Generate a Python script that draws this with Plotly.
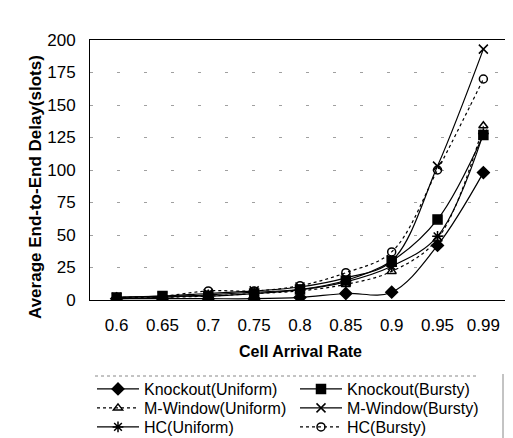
import plotly.graph_objects as go

categories = ["0.6", "0.65", "0.7", "0.75", "0.8", "0.85", "0.9", "0.95", "0.99"]
knockout_uniform = [1, 1, 1, 1, 2, 5, 6, 42, 98]
knockout_bursty = [2, 3, 3, 5, 8, 15, 30, 62, 127]
mwindow_uniform = [1, 2, 3, 5, 7, 12, 22, 47, 134]
mwindow_bursty = [2, 3, 5, 7, 10, 17, 30, 103, 193]
hc_uniform = [1, 2, 4, 6, 8, 14, 26, 49, 128]
hc_bursty = [2, 3, 7, 7, 11, 21, 37, 100, 170]
y_ticks = [0, 25, 50, 75, 100, 125, 150, 175, 200]

W, H = 513, 438
L, R, T, B = 82, 11, 32, 146  # margins in px
PW, PH = W - L - R, H - T - B

series = [
    ("Knockout(Uniform)", knockout_uniform, "solid", "diamond", 9),
    ("Knockout(Bursty)", knockout_bursty, "solid", "square", 9),
    ("M-Window(Uniform)", mwindow_uniform, "dot", "triangle-up-open", 8),
    ("M-Window(Bursty)", mwindow_bursty, "solid", "x-thin-open", 9),
    ("HC(Uniform)", hc_uniform, "solid", "asterisk-open", 9),
    ("HC(Bursty)", hc_bursty, "dot", "circle-open", 8),
]

# legend slots: (column left px, row centre px)
col_x = [84, 287]
row_y = [381, 400, 419]

fig = go.Figure()
legend_layouts = {}
for i, (name, vals, dash, sym, size) in enumerate(series):
    key = "legend" if i == 0 else f"legend{i + 1}"
    fig.add_trace(go.Scatter(
        x=categories, y=vals, name=name, mode="lines+markers", legend=key,
        line=dict(color="black", width=1.2, dash=dash, shape="spline", smoothing=1),
        marker=dict(symbol=sym, size=size, color="black",
                    line=dict(color="black", width=1.5)),
    ))
    legend_layouts[key] = dict(
        x=col_x[i % 2] / W, y=1 - row_y[i // 2] / H,
        xanchor="left", yanchor="middle", xref="container", yref="container",
        font=dict(size=16, family="Liberation Sans, Arial, sans-serif"),
        borderwidth=0, bgcolor="rgba(0,0,0,0)", itemwidth=42,
    )

def px_x(x):
    return (x - L) / PW

def px_y(y):
    return (H - B - y) / PH

fig.update_layout(
    width=W, height=H,
    margin=dict(l=L, r=R, t=T, b=B, autoexpand=False),
    paper_bgcolor="white", plot_bgcolor="white",
    font=dict(family="Liberation Sans, Arial, sans-serif", size=16, color="black"),
    showlegend=True,
    xaxis=dict(
        type="category",
        showline=True, linecolor="black", linewidth=1, mirror=True,
        showgrid=False, ticks="", tickfont=dict(size=17), ticklabelstandoff=10,
    ),
    yaxis=dict(
        range=[0, 200], tickvals=y_ticks,
        showline=True, linecolor="black", linewidth=1, mirror=True,
        showgrid=True, gridcolor="#a0a0a0", griddash="3px,24px", gridwidth=1,
        zeroline=False, ticks="", tickfont=dict(size=17), ticklabelstandoff=10,
    ),
    annotations=[
        dict(text="<b>Cell Arrival Rate</b>", xref="paper", yref="paper",
             x=0.5, y=px_y(343), xanchor="center", yanchor="middle",
             showarrow=False, font=dict(size=16)),
        dict(text="<b>Average End-to-End Delay(slots)</b>", xref="paper", yref="paper",
             x=px_x(27), y=px_y(179), xanchor="center", yanchor="middle",
             textangle=-90, showarrow=False, font=dict(size=17)),
    ],
    shapes=[
        dict(type="line", xref="paper", yref="paper", x0=px_x(87), x1=px_x(470),
             y0=px_y(368), y1=px_y(368), line=dict(color="#888888", width=1, dash="dot")),
        dict(type="line", xref="paper", yref="paper", x0=px_x(495), x1=px_x(495),
             y0=px_y(366), y1=px_y(432), line=dict(color="#888888", width=1)),
    ],
    **legend_layouts,
)

fig.write_html("out.html")
